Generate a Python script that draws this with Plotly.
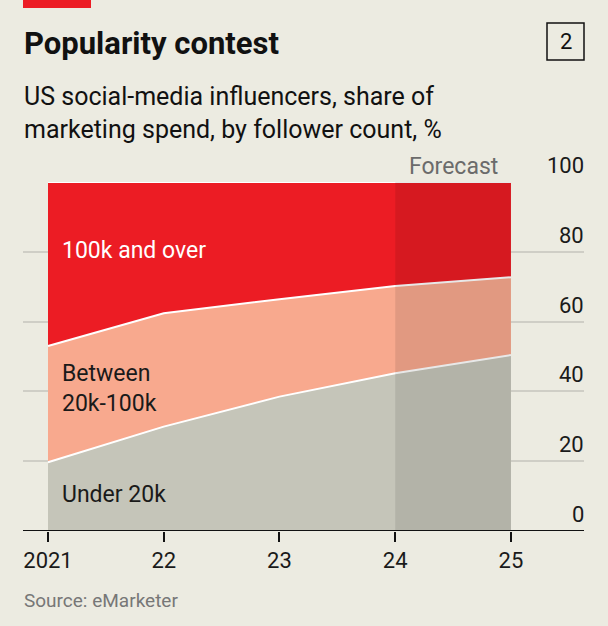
import plotly.graph_objects as go

years = [2021, 2022, 2023, 2024, 2025]
tick_labels = ["2021", "22", "23", "24", "25"]
under_20k = [19.7, 29.9, 38.5, 45.2, 50.4]
between_20k_100k = [33.3, 32.5, 27.9, 25.0, 22.3]
over_100k = [round(100 - a - b, 1) for a, b in zip(under_20k, between_20k_100k)]
y_ticks = [0, 20, 40, 60, 80, 100]

BG = "#ECEBE1"
RED = "#EC1C24"
SALMON = "#F8A98E"
GREY = "#C5C5B9"
FONT = "Roboto, sans-serif"

fig = go.Figure()
for name, vals, col in [("Under 20k", under_20k, GREY),
                        ("Between 20k-100k", between_20k_100k, SALMON),
                        ("100k and over", over_100k, RED)]:
    fig.add_trace(go.Scatter(
        x=years, y=vals, name=name, stackgroup="one", mode="lines",
        line=dict(color="white", width=2), fillcolor=col,
        hoverinfo="skip", showlegend=False))

# forecast shading
fig.add_shape(type="rect", xref="x", yref="y", x0=2024, x1=2025, y0=0, y1=100,
              fillcolor="rgba(0,0,0,0.09)", line=dict(width=0), layer="above")

# bottom axis line
fig.add_shape(type="line", xref="paper", yref="y", x0=0, x1=1, y0=0, y1=0,
              line=dict(color="#111111", width=2), layer="above")

fig.update_layout(
    width=608, height=626,
    margin=dict(l=23, r=24, t=182, b=95),
    paper_bgcolor=BG, plot_bgcolor=BG,
    font=dict(family=FONT, color="#1a1a1a"),
    xaxis=dict(range=[2020.784, 2025.631], tickvals=years, ticktext=tick_labels,
               showgrid=False, zeroline=False, ticks="outside", ticklen=10,
               tickwidth=2, tickcolor="#111111",
               tickfont=dict(size=22, family=FONT, color="#1a1a1a")),
    yaxis=dict(range=[0, 100], side="right", tickvals=y_ticks,
               showgrid=True, gridcolor="#CFCEC6", gridwidth=2, zeroline=False,
               showticklabels=False, ticks=""),
)

# y tick labels sitting above the gridlines
for v in y_ticks:
    fig.add_annotation(text=str(v), xref="paper", yref="y", x=1, y=v,
                       xanchor="right", yanchor="bottom", yshift=2, xshift=2,
                       showarrow=False,
                       font=dict(size=22, family=FONT, color="#1a1a1a"))

# header
fig.add_shape(type="rect", xref="paper", yref="paper",
              x0=0 / 561, x1=68 / 561, y0=1 + (182 - 8) / 349, y1=1 + 190 / 349,
              fillcolor=RED, line=dict(width=0))
fig.add_annotation(text="<b>Popularity contest</b>", xref="paper", yref="paper",
                   x=-1 / 561, y=1 + (182 - 57) / 349, xanchor="left", yanchor="bottom",
                   yshift=-7, showarrow=False, font=dict(size=31, family=FONT, color="#111111"))
fig.add_annotation(text="US social-media influencers, share of<br>marketing spend, by follower count, %",
                   xref="paper", yref="paper", x=-1 / 561, y=1 + (182 - 80) / 349,
                   xanchor="left", yanchor="top", align="left", showarrow=False,
                   font=dict(size=25, family=FONT, color="#111111"))
fig.add_shape(type="rect", xref="paper", yref="paper",
              x0=(547 - 23) / 561, x1=(584 - 23) / 561,
              y0=1 + (182 - 60) / 349, y1=1 + (182 - 23) / 349,
              line=dict(color="#111111", width=1.5), fillcolor="rgba(0,0,0,0)")
fig.add_annotation(text="2", xref="paper", yref="paper",
                   x=(565.5 - 23) / 561, y=1 + (182 - 42) / 349,
                   xanchor="center", yanchor="middle", showarrow=False,
                   font=dict(size=22, family=FONT, color="#111111"))

# forecast label
fig.add_annotation(text="Forecast", xref="x", yref="paper", x=2024.5, y=1,
                   xanchor="center", yanchor="bottom", yshift=0, showarrow=False,
                   font=dict(size=23, family=FONT, color="#6B6B6B"))

# series labels
fig.add_annotation(text="100k and over", xref="paper", yref="y", x=(60 - 23) / 561, y=(531 - 250) / 3.49,
                   xanchor="left", yanchor="middle", showarrow=False,
                   font=dict(size=23, family=FONT, color="white"))
fig.add_annotation(text="Between<br>20k-100k", xref="paper", yref="y", x=(60 - 23) / 561, y=(531 - 388) / 3.49,
                   xanchor="left", yanchor="middle", align="left", showarrow=False,
                   font=dict(size=23, family=FONT, color="#1a1a1a"))
fig.add_annotation(text="Under 20k", xref="paper", yref="y", x=(60 - 23) / 561, y=(531 - 494) / 3.49,
                   xanchor="left", yanchor="middle", showarrow=False,
                   font=dict(size=23, family=FONT, color="#1a1a1a"))

# source
fig.add_annotation(text="Source: eMarketer", xref="paper", yref="paper",
                   x=-1 / 561, y=-(607 - 531) / 349, xanchor="left", yanchor="bottom",
                   yshift=-7, showarrow=False,
                   font=dict(size=19, family=FONT, color="#777777"))

fig.write_html("out.html", config={"displayModeBar": False},
               post_script="document.body.style.margin='0';document.body.style.overflow='hidden';")
